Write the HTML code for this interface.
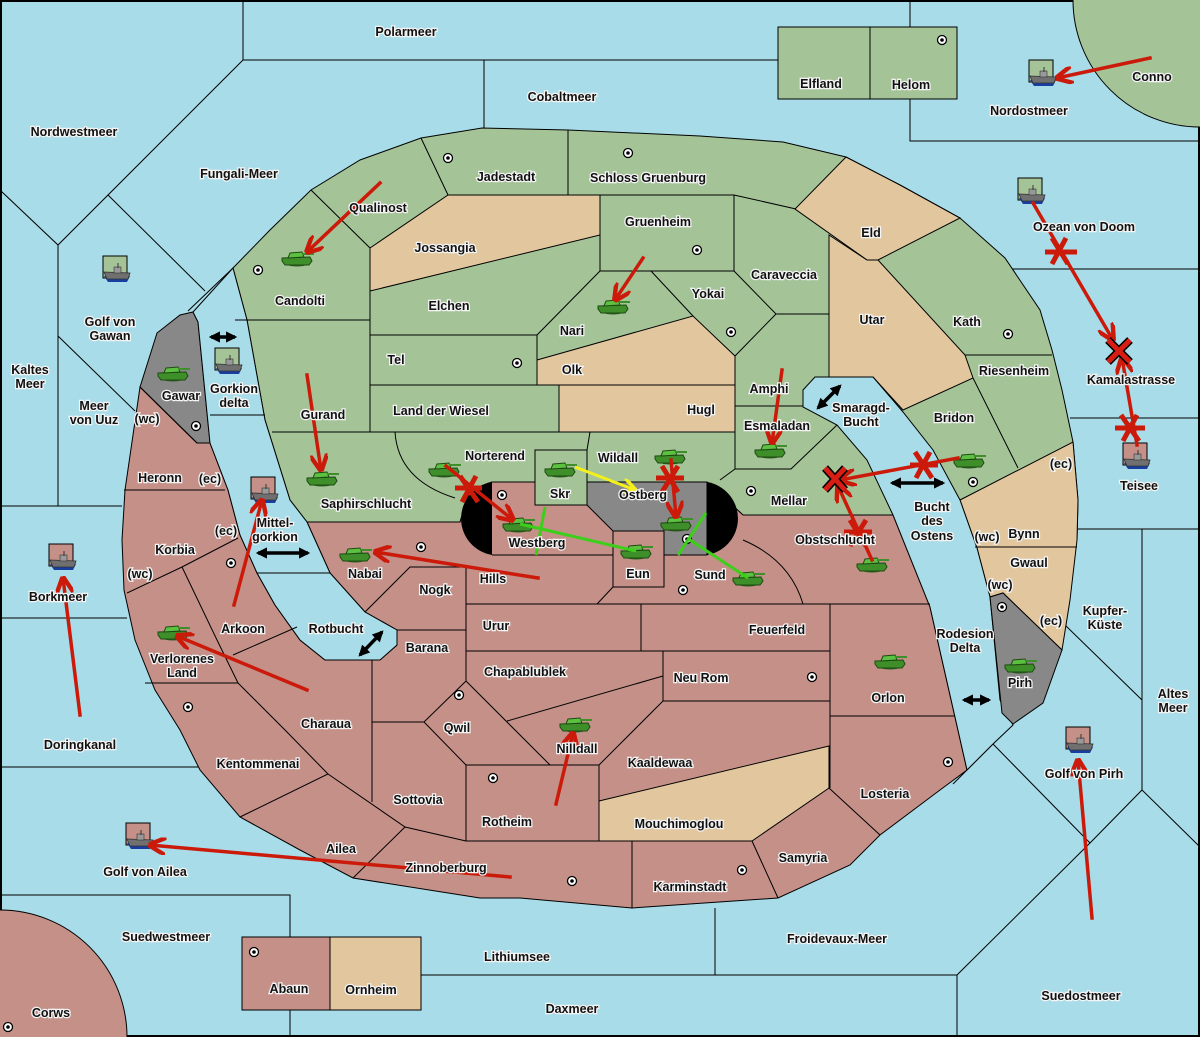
<!DOCTYPE html>
<html><head><meta charset="utf-8"><style>
html,body{margin:0;padding:0;background:#a8dce8;width:1200px;height:1037px;overflow:hidden;position:relative}
svg{display:block;position:absolute;left:0;top:0}
text{font-family:"Liberation Sans",sans-serif;font-weight:bold;font-size:12.5px;fill:#111;stroke:#f4f4f4;stroke-width:2.5px;paint-order:stroke;text-anchor:middle;dominant-baseline:central}
.b{fill:none;stroke:#000;stroke-width:1}
.g{fill:#a4c498;stroke:#000;stroke-width:1}
.t{fill:#e2c69e;stroke:#000;stroke-width:1}
.p{fill:#c49088;stroke:#000;stroke-width:1}
.s{fill:#a8dce8;stroke:#000;stroke-width:1}
.gr{fill:#888;stroke:#000;stroke-width:1}
.r{stroke:#cc1a0a;stroke-width:3.5;fill:none;stroke-linecap:square}
.rx{stroke:#cc1a0a;stroke-width:5;fill:none}
.gl{stroke:#3ccf1a;stroke-width:3;fill:none}
.yl{stroke:#f4f01c;stroke-width:3;fill:none}
.k{stroke:#000;stroke-width:3.5;fill:none}
</style></head><body>
<svg width="1200" height="1037" viewBox="0 0 1200 1037" xmlns="http://www.w3.org/2000/svg" overflow="hidden">
<defs>
<g id="tank">
<ellipse cx="0" cy="4" rx="14" ry="4.5" fill="#2d5e1e"/>
<path d="M-15,0 L13,-1 L15,3 L12,7 L-12,7 L-15,3Z" fill="#3e8e2a" stroke="#1d4a12" stroke-width="1"/>
<path d="M-7,-5 L5,-6 L7,-1 L-9,0Z" fill="#5cc040" stroke="#1d4a12" stroke-width="1"/>
<rect x="5" y="-5" width="12" height="2" fill="#3e8e2a"/>
</g>
<g id="ship">
<path d="M-12,12 L14,12 L11,18 L-8,18Z" fill="#1a3ea0"/>
<path d="M-12,8 L14,9 L12,15 L-9,15Z" fill="#707070" stroke="#333" stroke-width="0.8"/>
<rect x="-2" y="3" width="7" height="6" fill="#999" stroke="#333" stroke-width="0.6"/>
<line x1="2" y1="-1" x2="2" y2="4" stroke="#333" stroke-width="1"/>
</g>
<g id="sc"><circle r="4.5" fill="#fff" stroke="#000" stroke-width="1.3"/><circle r="1.8" fill="#000"/></g>
<marker id="ah" viewBox="0 0 10 10" refX="9" refY="5" markerWidth="5" markerHeight="5" orient="auto-start-reverse"><path d="M0,0 L10,5 L0,10" fill="none" stroke="#cc1a0a" stroke-width="2.5"/></marker>
<marker id="yh" viewBox="0 0 10 10" refX="9" refY="5" markerWidth="5" markerHeight="5" orient="auto"><path d="M0,0 L10,5 L0,10" fill="none" stroke="#f4f01c" stroke-width="2.5"/></marker>
<marker id="kh" viewBox="0 0 10 10" refX="8" refY="5" markerWidth="3.2" markerHeight="3.2" orient="auto-start-reverse"><path d="M0,0 L10,5 L0,10Z" fill="#000"/></marker>
</defs>

<rect x="1" y="1" width="1198" height="1035" fill="#a8dce8" stroke="#000" stroke-width="2"/>
<g class="b">
<path d="M243,0 L243,60 L778,60"/>
<path d="M484,60 L484,128"/>
<path d="M243,60 L58,245 L0,190"/>
<path d="M58,245 L58,506"/>
<path d="M108,195 L205,291"/>
<path d="M188,311 L233,268"/>
<path d="M58,336 L135,411"/>
<path d="M0,506 L122,506"/>
<path d="M0,618 L127,618"/>
<path d="M0,767 L205,767"/>
<path d="M0,895 L290,895 L290,937"/>
<path d="M290,1010 L290,1037"/>
<path d="M421,975 L715,975 L715,908"/>
<path d="M715,975 L957,975 L957,1037"/>
<path d="M957,975 L1090,843 L1142,790 L1200,847"/>
<path d="M1142,790 L1142,529"/>
<path d="M1078,529 L1200,529"/>
<path d="M1070,418 L1200,418"/>
<path d="M997,269 L1200,269"/>
<path d="M910,0 L910,27 M910,99 L910,141 L1200,141"/>
<path d="M760,60 L778,60"/>
<path d="M1065,625 L1142,700"/>
<path d="M1013,724 L953,784"/>
<path d="M993,744 L1090,843"/>
</g>
<circle cx="1200" cy="0" r="127" class="g"/>
<circle cx="0" cy="1037" r="127" class="p"/>
<rect x="778" y="27" width="92" height="72" class="g"/>
<rect x="870" y="27" width="87" height="72" class="g"/>
<rect x="242" y="937" width="88" height="73" class="p"/>
<rect x="330" y="937" width="91" height="73" class="t"/>

<path class="g" d="M233,268 L270,230 L311,190 L360,160 L421,138 L482,128 L568,130 L700,136 L783,142 L846,157 L900,185 L960,218 L1005,258 L1040,310 L1052,350 L1062,390 L1073,442 L1078,500 L1077,540 L975,545 L893,515 L743,515 L707,482 L492,482 L470,490 L460,522 L307,522 L290,500 L265,420 L247,320Z"/>
<path class="p" d="M140,387 L197,443 L210,443 L228,490 L240,535 L257,573 L275,605 L300,640 L325,660 L380,660 L397,645 L397,630 L365,612 L330,573 L307,522 L460,522 L470,490 L492,482 L535,482 L535,505 L587,505 L587,482 L707,482 L743,515 L893,515 L930,607 L967,770 L940,790 L880,835 L850,865 L778,898 L632,908 L520,898 L480,898 L353,878 L300,850 L240,817 L200,770 L180,730 L155,690 L135,640 L124,590 L122,540 L125,490Z"/>
<rect x="535" y="450" width="52" height="55" class="g"/>
<path class="gr" d="M140,387 L157,333 L180,315 L193,312 L198,322 L210,443 L197,443Z"/>
<path class="s" d="M233,268 L247,320 L265,420 L290,500 L307,522 L330,573 L365,612 L397,630 L397,645 L380,660 L325,660 L300,640 L275,605 L257,573 L240,535 L228,490 L210,443 L198,322 L193,312 Z"/>
<path class="b" d="M210,415 L265,415 M257,573 L330,573"/>
<path class="t" d="M370,248 L448,195 L600,195 L600,235 L370,291Z"/>
<path class="t" d="M846,157 L900,185 L960,218 L878,260 L867,260 L795,209Z"/>
<path class="t" d="M829,235 L867,260 L878,260 L965,355 L973,378 L903,410 L873,377 L829,377Z"/>
<path class="t" d="M537,360 L693,316 L735,356 L735,385 L537,385Z"/>
<path class="t" d="M559,385 L735,385 L735,432 L559,432Z"/>
<path class="t" d="M960,500 L1073,442 L1078,500 L1077,540 L1070,600 L1062,650 L1003,593 L990,597 L977,548Z"/>
<path class="t" d="M599,801 L829,746 L829,788 L752,841 L599,841Z"/>
<path class="s" d="M803,407 L803,390 L815,377 L873,377 L903,412 L933,450 L960,500 L977,548 L990,597 L1000,700 L1013,725 L993,744 L967,770 L930,607 L893,515 L867,460 L837,425Z"/>
<path class="gr" d="M990,597 L1003,593 L1062,650 L1043,703 L1013,724 L1002,713Z"/>
<path class="gr" d="M587,482 L707,482 L707,555 L664,555 L664,531 L613,531 L587,505Z"/>
<path d="M492,482 A37,37 0 0 0 492,555Z" fill="#000"/>
<path d="M707,482 A37,37 0 0 1 707,555Z" fill="#000"/>

<g class="b">
<path d="M311,190 L370,248 L370,432"/>
<path d="M421,138 L448,195"/>
<path d="M568,130 L568,195"/>
<path d="M600,195 L734,195 L734,271 L600,271 L600,195"/>
<path d="M734,195 L796,209"/>
<path d="M829,235 L829,377"/>
<path d="M734,271 L776,314 L829,314 M776,314 L735,356 L735,469"/>
<path d="M651,271 L693,316"/>
<path d="M600,271 L537,335 L537,385"/>
<path d="M235,320 L370,320"/>
<path d="M370,335 L537,335"/>
<path d="M370,385 L735,385"/>
<path d="M272,432 L735,432"/>
<path d="M735,406 L803,406"/>
<path d="M735,469 L791,469 L837,425"/>
<path d="M735,469 L720,480"/>
<path d="M395,432 Q398,480 455,498"/>
<path d="M590,432 L587,450"/>
<path d="M965,355 L1052,355"/>
<path d="M973,378 L1018,468"/>
<path d="M975,547 L1077,547"/>
</g>
<g class="b">
<path d="M140,387 L197,443"/>
<path d="M124,490 L225,490"/>
<path d="M127,593 L182,567 L238,538"/>
<path d="M182,567 L217,640 L238,683"/>
<path d="M233,655 L297,627"/>
<path d="M145,683 L238,683 L285,730 L328,774 L240,817"/>
<path d="M328,774 L405,827 L466,841 M405,827 L353,878"/>
<path d="M372,660 L372,802 M372,722 L424,722"/>
<path d="M397,630 L466,630"/>
<path d="M365,612 L410,567 L466,567 M466,567 L466,681"/>
<path d="M492,555 L613,555 L613,531 L664,531 L664,587 L613,587 L613,555"/>
<path d="M466,604 L830,604 L830,788"/>
<path d="M597,604 L613,587"/>
<path d="M743,540 Q790,560 803,604"/>
<path d="M641,604 L641,651 M466,651 L830,651"/>
<path d="M663,651 L663,701 L830,701"/>
<path d="M507,721 L663,676"/>
<path d="M466,681 L424,722 L466,765 L599,765 L599,841 L466,841 L466,765 M466,681 L550,765"/>
<path d="M599,765 L663,701"/>
<path d="M632,841 L632,908 M752,841 L778,898 M829,788 L880,835"/>
<path d="M830,604 L930,604 M830,716 L955,716"/>
</g>

<g>
<use href="#sc" x="942" y="40"/><use href="#sc" x="448" y="158"/><use href="#sc" x="628" y="153"/><use href="#sc" x="697" y="250"/>
<use href="#sc" x="258" y="270"/><use href="#sc" x="731" y="332"/><use href="#sc" x="517" y="363"/><use href="#sc" x="502" y="495"/>
<use href="#sc" x="421" y="547"/><use href="#sc" x="751" y="491"/><use href="#sc" x="973" y="482"/><use href="#sc" x="1008" y="334"/>
<use href="#sc" x="687" y="539"/><use href="#sc" x="683" y="590"/><use href="#sc" x="231" y="563"/><use href="#sc" x="188" y="707"/>
<use href="#sc" x="459" y="695"/><use href="#sc" x="493" y="778"/><use href="#sc" x="812" y="677"/><use href="#sc" x="948" y="762"/>
<use href="#sc" x="742" y="870"/><use href="#sc" x="572" y="881"/><use href="#sc" x="254" y="952"/><use href="#sc" x="1002" y="607"/>
<use href="#sc" x="8" y="1027"/><use href="#sc" x="196" y="426"/>
</g>

<g stroke="#000" stroke-width="1">
<rect x="1029" y="60" width="24" height="22" fill="#a4c498"/>
<rect x="1018" y="178" width="24" height="22" fill="#a4c498"/>
<rect x="1123" y="443" width="24" height="22" fill="#c49088"/>
<rect x="1066" y="727" width="24" height="22" fill="#c49088"/>
<rect x="103" y="256" width="24" height="22" fill="#a4c498"/>
<rect x="215" y="348" width="24" height="22" fill="#a4c498"/>
<rect x="251" y="477" width="24" height="22" fill="#c49088"/>
<rect x="49" y="544" width="24" height="22" fill="#c49088"/>
<rect x="126" y="823" width="24" height="22" fill="#c49088"/>
</g>
<use href="#ship" x="1042" y="68"/><use href="#ship" x="1031" y="186"/><use href="#ship" x="1136" y="451"/>
<use href="#ship" x="1079" y="735"/><use href="#ship" x="116" y="264"/><use href="#ship" x="228" y="356"/>
<use href="#ship" x="264" y="485"/><use href="#ship" x="62" y="552"/><use href="#ship" x="139" y="831"/>

<g>
<use href="#tank" x="297" y="258"/><use href="#tank" x="613" y="306"/><use href="#tank" x="322" y="478"/>
<use href="#tank" x="444" y="469"/><use href="#tank" x="518" y="524"/><use href="#tank" x="560" y="469"/>
<use href="#tank" x="670" y="456"/><use href="#tank" x="676" y="523"/><use href="#tank" x="636" y="551"/>
<use href="#tank" x="748" y="578"/><use href="#tank" x="355" y="554"/><use href="#tank" x="173" y="373"/>
<use href="#tank" x="173" y="632"/><use href="#tank" x="575" y="724"/><use href="#tank" x="770" y="450"/>
<use href="#tank" x="969" y="460"/><use href="#tank" x="872" y="564"/><use href="#tank" x="890" y="661"/>
<use href="#tank" x="1020" y="665"/>
</g>

<path class="gl" d="M545,507 L536,555 M520,524 L636,551 M706,513 L678,555 M690,540 L748,578"/>
<path class="yl" d="M575,467 L635,490" marker-end="url(#yh)"/>

<g class="k">
<path d="M211,337 L235,337" marker-start="url(#kh)" marker-end="url(#kh)"/>
<path d="M258,553 L308,553" marker-start="url(#kh)" marker-end="url(#kh)"/>
<path d="M360,655 L382,632" marker-start="url(#kh)" marker-end="url(#kh)"/>
<path d="M818,408 L840,386" marker-start="url(#kh)" marker-end="url(#kh)"/>
<path d="M892,483 L943,483" marker-start="url(#kh)" marker-end="url(#kh)"/>
<path d="M964,700 L989,700" marker-start="url(#kh)" marker-end="url(#kh)"/>
</g>

<g class="r">
<path d="M380,183 L307,252" marker-end="url(#ah)"/>
<path d="M643,258 L615,300" marker-end="url(#ah)"/>
<path d="M307,375 L321,470" marker-end="url(#ah)"/>
<path d="M782,370 L772,443" marker-end="url(#ah)"/>
<path d="M446,466 L513,520" marker-end="url(#ah)"/>
<path d="M538,578 L375,552" marker-end="url(#ah)"/>
<path d="M234,605 L262,500" marker-end="url(#ah)"/>
<path d="M307,690 L177,636" marker-end="url(#ah)"/>
<path d="M80,715 L63,578" marker-end="url(#ah)"/>
<path d="M510,877 L150,845" marker-end="url(#ah)"/>
<path d="M556,804 L573,733" marker-end="url(#ah)"/>
<path d="M671,460 L676,517" marker-end="url(#ah)"/>
<path d="M958,458 L840,480" marker-end="url(#ah)"/>
<path d="M872,560 L838,486" marker-end="url(#ah)"/>
<path d="M1150,58 L1057,78" marker-end="url(#ah)"/>
<path d="M1033,203 L1113,340" marker-end="url(#ah)"/>
<path d="M1137,445 L1122,358" marker-end="url(#ah)"/>
<path d="M1092,918 L1078,760" marker-end="url(#ah)"/>
</g>
<g class="rx">
<path d="M455,488 L482,488 M460,476 L478,502 M476,476 L462,502"/>
<path d="M656,478 L684,478 M662,466 L678,492 M678,466 L662,492"/>
<path d="M910,465 L938,465 M915,452 L932,478 M930,452 L916,478"/>
<path d="M844,532 L872,532 M850,520 L866,546 M866,520 L850,546"/>
<path d="M1045,252 L1077,252 M1052,238 L1068,264 M1066,238 L1052,264"/>
<path d="M1115,428 L1145,428 M1121,415 L1139,441 M1137,415 L1123,441"/>
</g>
<g stroke="#000" stroke-width="8"><path d="M825,468 L845,490 M845,468 L825,490"/><path d="M1108,340 L1130,362 M1130,340 L1108,362"/></g>
<g stroke="#d81e14" stroke-width="5"><path d="M825,468 L845,490 M845,468 L825,490"/><path d="M1108,340 L1130,362 M1130,340 L1108,362"/></g>

<g>
<text x="406" y="32">Polarmeer</text>
<text x="562" y="97">Cobaltmeer</text>
<text x="74" y="132">Nordwestmeer</text>
<text x="239" y="174">Fungali-Meer</text>
<text x="821" y="84">Elfland</text>
<text x="911" y="85">Helom</text>
<text x="1152" y="77">Conno</text>
<text x="1029" y="111">Nordostmeer</text>
<text x="1084" y="227">Ozean von Doom</text>
<text x="1131" y="380">Kamalastrasse</text>
<text x="1139" y="486">Teisee</text>
<text x="1105" y="611">Kupfer-</text><text x="1105" y="625">Küste</text>
<text x="1173" y="694">Altes</text><text x="1173" y="708">Meer</text>
<text x="1084" y="774">Golf von Pirh</text>
<text x="1081" y="996">Suedostmeer</text>
<text x="837" y="939">Froidevaux-Meer</text>
<text x="572" y="1009">Daxmeer</text>
<text x="517" y="957">Lithiumsee</text>
<text x="166" y="937">Suedwestmeer</text>
<text x="51" y="1013">Corws</text>
<text x="289" y="989">Abaun</text>
<text x="371" y="990">Ornheim</text>
<text x="145" y="872">Golf von Ailea</text>
<text x="80" y="745">Doringkanal</text>
<text x="58" y="597">Borkmeer</text>
<text x="30" y="370">Kaltes</text><text x="30" y="384">Meer</text>
<text x="94" y="406">Meer</text><text x="94" y="420">von Uuz</text>
<text x="110" y="322">Golf von</text><text x="110" y="336">Gawan</text>
<text x="181" y="396">Gawar</text>
<text x="147" y="419">(wc)</text>
<text x="234" y="389">Gorkion</text><text x="234" y="403">delta</text>
<text x="160" y="478">Heronn</text>
<text x="210" y="479">(ec)</text>
<text x="226" y="531">(ec)</text>
<text x="275" y="523">Mittel-</text><text x="275" y="537">gorkion</text>
<text x="175" y="550">Korbia</text>
<text x="140" y="574">(wc)</text>
<text x="243" y="629">Arkoon</text>
<text x="182" y="659">Verlorenes</text><text x="182" y="673">Land</text>
<text x="336" y="629">Rotbucht</text>
<text x="258" y="764">Kentommenai</text>
<text x="326" y="724">Charaua</text>
<text x="341" y="849">Ailea</text>
<text x="446" y="868">Zinnoberburg</text>
<text x="418" y="800">Sottovia</text>
<text x="457" y="728">Qwil</text>
<text x="427" y="648">Barana</text>
<text x="435" y="590">Nogk</text>
<text x="365" y="574">Nabai</text>
<text x="493" y="579">Hills</text>
<text x="496" y="626">Urur</text>
<text x="525" y="672">Chapablublek</text>
<text x="577" y="749">Nilldall</text>
<text x="507" y="822">Rotheim</text>
<text x="660" y="763">Kaaldewaa</text>
<text x="679" y="824">Mouchimoglou</text>
<text x="690" y="887">Karminstadt</text>
<text x="803" y="858">Samyria</text>
<text x="885" y="794">Losteria</text>
<text x="888" y="698">Orlon</text>
<text x="701" y="678">Neu Rom</text>
<text x="777" y="630">Feuerfeld</text>
<text x="638" y="574">Eun</text>
<text x="710" y="575">Sund</text>
<text x="537" y="543">Westberg</text>
<text x="560" y="494">Skr</text>
<text x="643" y="495">Ostberg</text>
<text x="618" y="458">Wildall</text>
<text x="495" y="456">Norterend</text>
<text x="366" y="504">Saphirschlucht</text>
<text x="323" y="415">Gurand</text>
<text x="300" y="301">Candolti</text>
<text x="378" y="208">Qualinost</text>
<text x="506" y="177">Jadestadt</text>
<text x="648" y="178">Schloss Gruenburg</text>
<text x="445" y="248">Jossangia</text>
<text x="658" y="222">Gruenheim</text>
<text x="449" y="306">Elchen</text>
<text x="572" y="331">Nari</text>
<text x="708" y="294">Yokai</text>
<text x="784" y="275">Caraveccia</text>
<text x="871" y="233">Eld</text>
<text x="872" y="320">Utar</text>
<text x="967" y="322">Kath</text>
<text x="1014" y="371">Riesenheim</text>
<text x="954" y="418">Bridon</text>
<text x="396" y="360">Tel</text>
<text x="572" y="370">Olk</text>
<text x="441" y="411">Land der Wiesel</text>
<text x="701" y="410">Hugl</text>
<text x="769" y="389">Amphi</text>
<text x="777" y="426">Esmaladan</text>
<text x="861" y="408">Smaragd-</text><text x="861" y="422">Bucht</text>
<text x="789" y="501">Mellar</text>
<text x="835" y="540">Obstschlucht</text>
<text x="932" y="507">Bucht</text><text x="932" y="521">des</text><text x="932" y="536">Ostens</text>
<text x="1061" y="464">(ec)</text>
<text x="987" y="537">(wc)</text>
<text x="1024" y="534">Bynn</text>
<text x="1029" y="563">Gwaul</text>
<text x="1000" y="585">(wc)</text>
<text x="1051" y="621">(ec)</text>
<text x="965" y="634">Rodesion</text><text x="965" y="648">Delta</text>
<text x="1020" y="683">Pirh</text>
</g>
</svg>
</body></html>
